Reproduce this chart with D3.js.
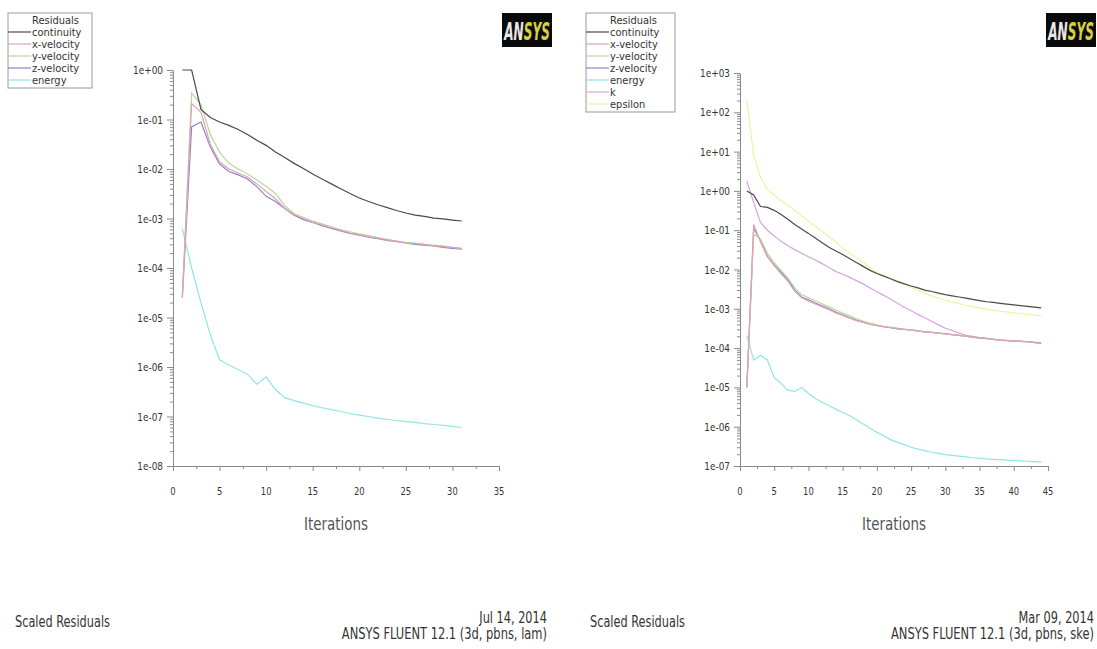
<!DOCTYPE html>
<html>
<head>
<meta charset="utf-8">
<script src="https://cdn.jsdelivr.net/npm/d3@7"></script>
<style>
  body { margin: 0; background: #fff; }
  svg { display: block; }
  text { font-family: "Liberation Sans Narrow", "DejaVu Sans Condensed", "Liberation Sans", sans-serif; fill: #333; }
</style>
</head>
<body>
<div id="chart"></div>
<script>
// ---- data ----
var seriesNames = ["continuity", "x-velocity", "y-velocity", "z-velocity", "energy", "k", "epsilon"];
var seriesColors = ["#4a4a4a", "#e2a2b2", "#b8d89a", "#8a84cc", "#8fe6e6", "#d9a2e2", "#f2f0a8"];

// left run: laminar, 31 iterations
var lamIter = d3.range(1, 32);
var lamContinuity = [1, 1, 0.16, 0.11, 0.089, 0.076, 0.063, 0.05, 0.038, 0.03, 0.022, 0.017, 0.013, 0.0102, 0.0079, 0.0063, 0.005, 0.004, 0.0032, 0.0026, 0.0022, 0.0019, 0.00166, 0.00145, 0.00129, 0.00117, 0.0011, 0.00102, 0.00098, 0.00093, 0.00089];
var lamXVel = [2.5e-5, 0.21, 0.14, 0.032, 0.014, 0.01, 0.0083, 0.0069, 0.005, 0.0035, 0.0025, 0.0016, 0.0012, 0.001, 0.00085, 0.00074, 0.00065, 0.00058, 0.00051, 0.00047, 0.00043, 0.0004, 0.00037, 0.00035, 0.00032, 0.00031, 0.0003, 0.00028, 0.00027, 0.00026, 0.00025];
var lamYVel = [2.5e-5, 0.34, 0.2, 0.05, 0.022, 0.013, 0.01, 0.0079, 0.006, 0.0045, 0.0032, 0.0018, 0.00126, 0.00105, 0.00089, 0.00078, 0.00068, 0.0006, 0.00054, 0.00049, 0.00045, 0.00041, 0.00038, 0.00035, 0.00033, 0.00032, 0.0003, 0.00029, 0.00028, 0.00026, 0.00025];
var lamZVel = [2.5e-5, 0.071, 0.089, 0.028, 0.0126, 0.0089, 0.0076, 0.0063, 0.0044, 0.0028, 0.0022, 0.0016, 0.00117, 0.00095, 0.00083, 0.00072, 0.00063, 0.00056, 0.0005, 0.00046, 0.00042, 0.00039, 0.00036, 0.00034, 0.00032, 0.0003, 0.00029, 0.00028, 0.00026, 0.00025, 0.00024];
var lamEnergy = [6.3e-4, 1e-4, 2e-5, 4.5e-6, 1.4e-6, 1.1e-6, 8.9e-7, 7.1e-7, 4.5e-7, 6.3e-7, 3.5e-7, 2.4e-7, 2.1e-7, 1.86e-7, 1.66e-7, 1.5e-7, 1.38e-7, 1.26e-7, 1.15e-7, 1.07e-7, 1.0e-7, 9.3e-8, 8.7e-8, 8.3e-8, 7.9e-8, 7.6e-8, 7.2e-8, 6.9e-8, 6.6e-8, 6.3e-8, 6.0e-8];

// right run: k-epsilon, 44 iterations
var skeIter = d3.range(1, 45);
var skeContinuity = [1, 0.79, 0.4, 0.38, 0.32, 0.25, 0.19, 0.14, 0.107, 0.083, 0.063, 0.048, 0.037, 0.0295, 0.024, 0.019, 0.0151, 0.012, 0.0095, 0.0079, 0.0068, 0.0058, 0.0049, 0.0043, 0.0038, 0.0034, 0.003, 0.00275, 0.0025, 0.0023, 0.00214, 0.002, 0.00186, 0.00174, 0.00162, 0.00151, 0.00145, 0.00138, 0.00132, 0.00126, 0.0012, 0.00115, 0.0011, 0.00105];
var skeXVel = [1e-5, 0.14, 0.05, 0.021, 0.0126, 0.0079, 0.005, 0.0028, 0.0019, 0.00158, 0.00132, 0.00112, 0.00095, 0.00079, 0.00068, 0.00058, 0.0005, 0.00045, 0.0004, 0.00037, 0.00035, 0.00033, 0.00032, 0.0003, 0.00029, 0.00028, 0.00026, 0.00025, 0.00024, 0.00023, 0.00022, 0.00021, 0.0002, 0.00019, 0.00018, 0.000174, 0.000166, 0.000158, 0.000155, 0.000151, 0.000148, 0.000145, 0.000138, 0.000132];
var skeYVel = [1e-5, 0.079, 0.06, 0.026, 0.015, 0.0095, 0.006, 0.0034, 0.0023, 0.0019, 0.0016, 0.00135, 0.00112, 0.00093, 0.00078, 0.00066, 0.00056, 0.00049, 0.00043, 0.00039, 0.00036, 0.00034, 0.00032, 0.0003, 0.00029, 0.00027, 0.00026, 0.00025, 0.00024, 0.00023, 0.00022, 0.00021, 0.0002, 0.00019, 0.00018, 0.000174, 0.000166, 0.000158, 0.000155, 0.000151, 0.000148, 0.000145, 0.000138, 0.000132];
var skeZVel = [1e-5, 0.11, 0.055, 0.022, 0.013, 0.0085, 0.0055, 0.003, 0.002, 0.0017, 0.0014, 0.0012, 0.001, 0.00083, 0.0007, 0.0006, 0.00052, 0.00046, 0.00041, 0.00038, 0.00035, 0.00033, 0.00031, 0.0003, 0.00029, 0.00027, 0.00026, 0.00025, 0.00024, 0.00023, 0.00022, 0.00021, 0.0002, 0.00019, 0.000182, 0.000176, 0.000168, 0.00016, 0.000156, 0.000152, 0.000149, 0.000146, 0.00014, 0.000134];
var skeEnergy = [2.1e-4, 5e-5, 6.6e-5, 5e-5, 1.8e-5, 1.26e-5, 8.5e-6, 7.9e-6, 1e-5, 7.1e-6, 5.2e-6, 4.2e-6, 3.4e-6, 2.8e-6, 2.3e-6, 1.9e-6, 1.5e-6, 1.17e-6, 9.1e-7, 7.2e-7, 5.8e-7, 4.7e-7, 4.0e-7, 3.5e-7, 3.0e-7, 2.7e-7, 2.45e-7, 2.24e-7, 2.1e-7, 1.95e-7, 1.86e-7, 1.78e-7, 1.7e-7, 1.62e-7, 1.58e-7, 1.51e-7, 1.48e-7, 1.45e-7, 1.41e-7, 1.38e-7, 1.35e-7, 1.32e-7, 1.29e-7, 1.26e-7];
var skeK = [1.78, 0.5, 0.158, 0.1, 0.071, 0.052, 0.04, 0.032, 0.026, 0.021, 0.0174, 0.0141, 0.0112, 0.0089, 0.0076, 0.0063, 0.0052, 0.0043, 0.0034, 0.0027, 0.0022, 0.00174, 0.00138, 0.0011, 0.00089, 0.00072, 0.00059, 0.00048, 0.00039, 0.00032, 0.00028, 0.00024, 0.00021, 0.0002, 0.000186, 0.000178, 0.00017, 0.000162, 0.000158, 0.000151, 0.000148, 0.000145, 0.000141, 0.000138];
var skeEpsilon = [200, 7.9, 2.24, 1.12, 0.79, 0.56, 0.43, 0.32, 0.23, 0.17, 0.126, 0.093, 0.069, 0.05, 0.035, 0.026, 0.02, 0.0151, 0.0112, 0.0085, 0.0069, 0.006, 0.0052, 0.0044, 0.0035, 0.003, 0.0025, 0.0021, 0.00186, 0.00166, 0.00148, 0.00135, 0.00123, 0.00112, 0.00105, 0.00098, 0.00091, 0.00087, 0.00083, 0.00079, 0.00076, 0.00072, 0.00069, 0.00066];

var lamXTicks = [0, 5, 10, 15, 20, 25, 30, 35];
var skeXTicks = [0, 5, 10, 15, 20, 25, 30, 35, 40, 45];
var lamDate = "Jul 14, 2014", lamInfo = "ANSYS FLUENT 12.1 (3d, pbns, lam)";
var skeDate = "Mar 09, 2014", skeInfo = "ANSYS FLUENT 12.1 (3d, pbns, ske)";

// ---- layout ----
var width = 1097, height = 649;
var svg = d3.select("#chart").append("svg")
    .attr("width", width)
    .attr("height", height);

var panels = [
    {
        iter: lamIter,
        series: [lamContinuity, lamXVel, lamYVel, lamZVel, lamEnergy],
        xDomain: [0, 35], xTicks: lamXTicks, xRange: [173, 499],
        yDomain: [1e-8, 1], yRange: [466, 70],
        legend: { x: 8, y: 13, w: 84 },
        logo: 502, date: lamDate, info: lamInfo, infoRight: 547, titleX: 15
    },
    {
        iter: skeIter,
        series: [skeContinuity, skeXVel, skeYVel, skeZVel, skeEnergy, skeK, skeEpsilon],
        xDomain: [0, 45], xTicks: skeXTicks, xRange: [740, 1048],
        yDomain: [1e-7, 1e3], yRange: [466, 73],
        legend: { x: 586, y: 13, w: 89 },
        logo: 1046, date: skeDate, info: skeInfo, infoRight: 1094, titleX: 590
    }
];

function expFormat(d) {
    var e = Math.round(Math.log10(d));
    return "1e" + (e < 0 ? "-" : "+") + (Math.abs(e) < 10 ? "0" : "") + Math.abs(e);
}

// narrow text helper: squeeze glyphs horizontally like the Fluent bitmap font
function narrowText(parent, x, y, str, size, anchor, sx) {
    return parent.append("text")
        .attr("transform", "translate(" + x + "," + y + ") scale(" + (sx || 0.85) + ",1)")
        .attr("text-anchor", anchor || "start")
        .attr("font-size", size)
        .text(str);
}

panels.forEach(function (p) {
    var g = svg.append("g");

    var x = d3.scaleLinear().domain(p.xDomain).range(p.xRange);
    var y = d3.scaleLog().domain(p.yDomain).range(p.yRange);

    // y axis with log minor ticks
    var decades = [];
    for (var e = Math.round(Math.log10(p.yDomain[0])); e <= Math.round(Math.log10(p.yDomain[1])); e++) decades.push(Math.pow(10, e));
    var minors = [];
    decades.slice(0, -1).forEach(function (d) {
        for (var m = 2; m < 10; m++) minors.push(d * m);
    });

    g.append("g")
        .attr("transform", "translate(" + p.xRange[0] + ",0)")
        .call(d3.axisLeft(y).tickValues(decades).tickFormat("").tickSize(6).tickSizeOuter(0));
    g.append("g")
        .attr("transform", "translate(" + p.xRange[0] + ",0)")
        .call(d3.axisLeft(y).tickValues(minors).tickFormat("").tickSize(3).tickSizeOuter(0))
        .select(".domain").remove();

    decades.forEach(function (d) {
        narrowText(g, p.xRange[0] - 10, y(d) + 4, expFormat(d), 11, "end", 0.9);
    });

    // x axis
    var xMinor = [];
    for (var i = 0; i < p.xTicks.length - 1; i++) xMinor.push((p.xTicks[i] + p.xTicks[i + 1]) / 2);
    g.append("g")
        .attr("transform", "translate(0," + p.yRange[0] + ")")
        .call(d3.axisBottom(x).tickValues(p.xTicks).tickFormat("").tickSize(5).tickSizeOuter(0));
    g.append("g")
        .attr("transform", "translate(0," + p.yRange[0] + ")")
        .call(d3.axisBottom(x).tickValues(xMinor).tickFormat("").tickSize(3).tickSizeOuter(0))
        .select(".domain").remove();
    p.xTicks.forEach(function (t) {
        narrowText(g, x(t), p.yRange[0] + 29, t, 11, "middle", 0.85);
    });

    g.selectAll(".domain, .tick line").attr("stroke", "#8a8a8a");

    narrowText(g, (p.xRange[0] + p.xRange[1]) / 2, 530, "Iterations", 17, "middle", 0.88).style("fill", "#555");

    // residual lines
    var line = d3.line()
        .x(function (d, i) { return x(p.iter[i]); })
        .y(function (d) { return y(d); });

    // draw in reverse so continuity sits on top
    p.series.map(function (s, i) { return { vals: s, color: seriesColors[i] }; })
        .reverse()
        .forEach(function (s) {
            g.append("path")
                .datum(s.vals)
                .attr("fill", "none")
                .attr("stroke", s.color)
                .attr("stroke-width", 1.2)
                .attr("d", line);
        });

    // legend box
    var n = p.series.length;
    var rowH = 12;
    var lg = g.append("g");
    lg.append("rect")
        .attr("x", p.legend.x).attr("y", p.legend.y)
        .attr("width", p.legend.w).attr("height", rowH * (n + 1) + 3)
        .attr("fill", "#fff").attr("stroke", "#999");
    narrowText(lg, p.legend.x + 24, p.legend.y + 11, "Residuals", 10.2, "start", 1.08);
    for (var k = 0; k < n; k++) {
        var yy = p.legend.y + 11 + rowH * (k + 1);
        lg.append("line")
            .attr("x1", p.legend.x).attr("x2", p.legend.x + 23)
            .attr("y1", yy - 4).attr("y2", yy - 4)
            .attr("stroke", seriesColors[k]).attr("stroke-width", 1.2);
        narrowText(lg, p.legend.x + 24, yy, seriesNames[k], 10.2, "start", 1.08);
    }

    // logo
    var logo = g.append("g").attr("transform", "translate(" + p.logo + ",13)");
    logo.append("rect").attr("width", 50).attr("height", 34).attr("fill", "#0a0a0a");
    logo.append("text").attr("x", 4).attr("y", 27)
        .attr("font-size", 24).attr("font-weight", "bold").attr("font-style", "italic")
        .attr("transform", "scale(0.56,1)")
        .style("fill", "#e8e8e8").text("AN")
        .append("tspan").style("fill", "#d8d040").text("SYS");

    // footer
    narrowText(g, p.titleX, 627, "Scaled Residuals", 15, "start", 0.84);
    narrowText(g, p.infoRight, 623, p.date, 15, "end", 0.84);
    narrowText(g, p.infoRight, 639, p.info, 15, "end", 0.85);
});
</script>
</body>
</html>
